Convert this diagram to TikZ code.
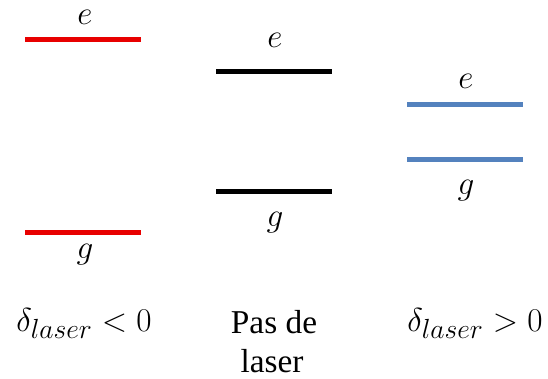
\documentclass[tikz,border=0pt]{standalone}
\usepackage{fontspec}
\newfontfamily\capfont{Liberation Serif}
\definecolor{lvlred}{RGB}{232,0,0}
\definecolor{lvlblue}{RGB}{84,130,190}
\tikzset{
  level/.style={line width=3.75pt},
  lbl/.style={font=\fontsize{27}{32}\selectfont,inner sep=0pt,anchor=base},
  caplbl/.style={font=\fontsize{30}{34}\selectfont,inner sep=0pt,anchor=base},
  txt/.style={font=\capfont\fontsize{25}{29}\selectfont,inner sep=0pt,anchor=base}
}
\begin{document}
\begin{tikzpicture}[x=0.75pt,y=-0.75pt]
\useasboundingbox (0,0) rectangle (548,378);
% red: delta < 0
\coordinate (rE1) at (25,40);
\coordinate (rE2) at (141,40);
\coordinate (rG1) at (25,232);
\coordinate (rG2) at (141,232);
\draw[level,lvlred] (rE1) -- (rE2);
\draw[level,lvlred] (rG1) -- (rG2);
\node[lbl] (rE) at (85,25) {$e$};
\node[lbl] (rG) at (85,258) {$g$};
% black: no laser
\coordinate (kE1) at (216,71);
\coordinate (kE2) at (332,71);
\coordinate (kG1) at (216,191);
\coordinate (kG2) at (332,191);
\draw[level,black] (kE1) -- (kE2);
\draw[level,black] (kG1) -- (kG2);
\node[lbl] (kE) at (275,47) {$e$};
\node[lbl] (kG) at (275,226) {$g$};
% blue: delta > 0
\coordinate (bE1) at (407,104);
\coordinate (bE2) at (523,104);
\coordinate (bG1) at (407,159);
\coordinate (bG2) at (523,159);
\draw[level,lvlblue] (bE1) -- (bE2);
\draw[level,lvlblue] (bG1) -- (bG2);
\node[lbl] (bE) at (466,88) {$e$};
\node[lbl] (bG) at (466,194) {$g$};
% captions
\node[caplbl] (capNeg) at (84,331) {$\delta_{laser}<0$};
\node[txt] (capNone) at (274,333) {Pas de};
\node[txt] (capNone2) at (272,372) {laser};
\node[caplbl] (capPos) at (475,331) {$\delta_{laser}>0$};
\end{tikzpicture}
\end{document}
